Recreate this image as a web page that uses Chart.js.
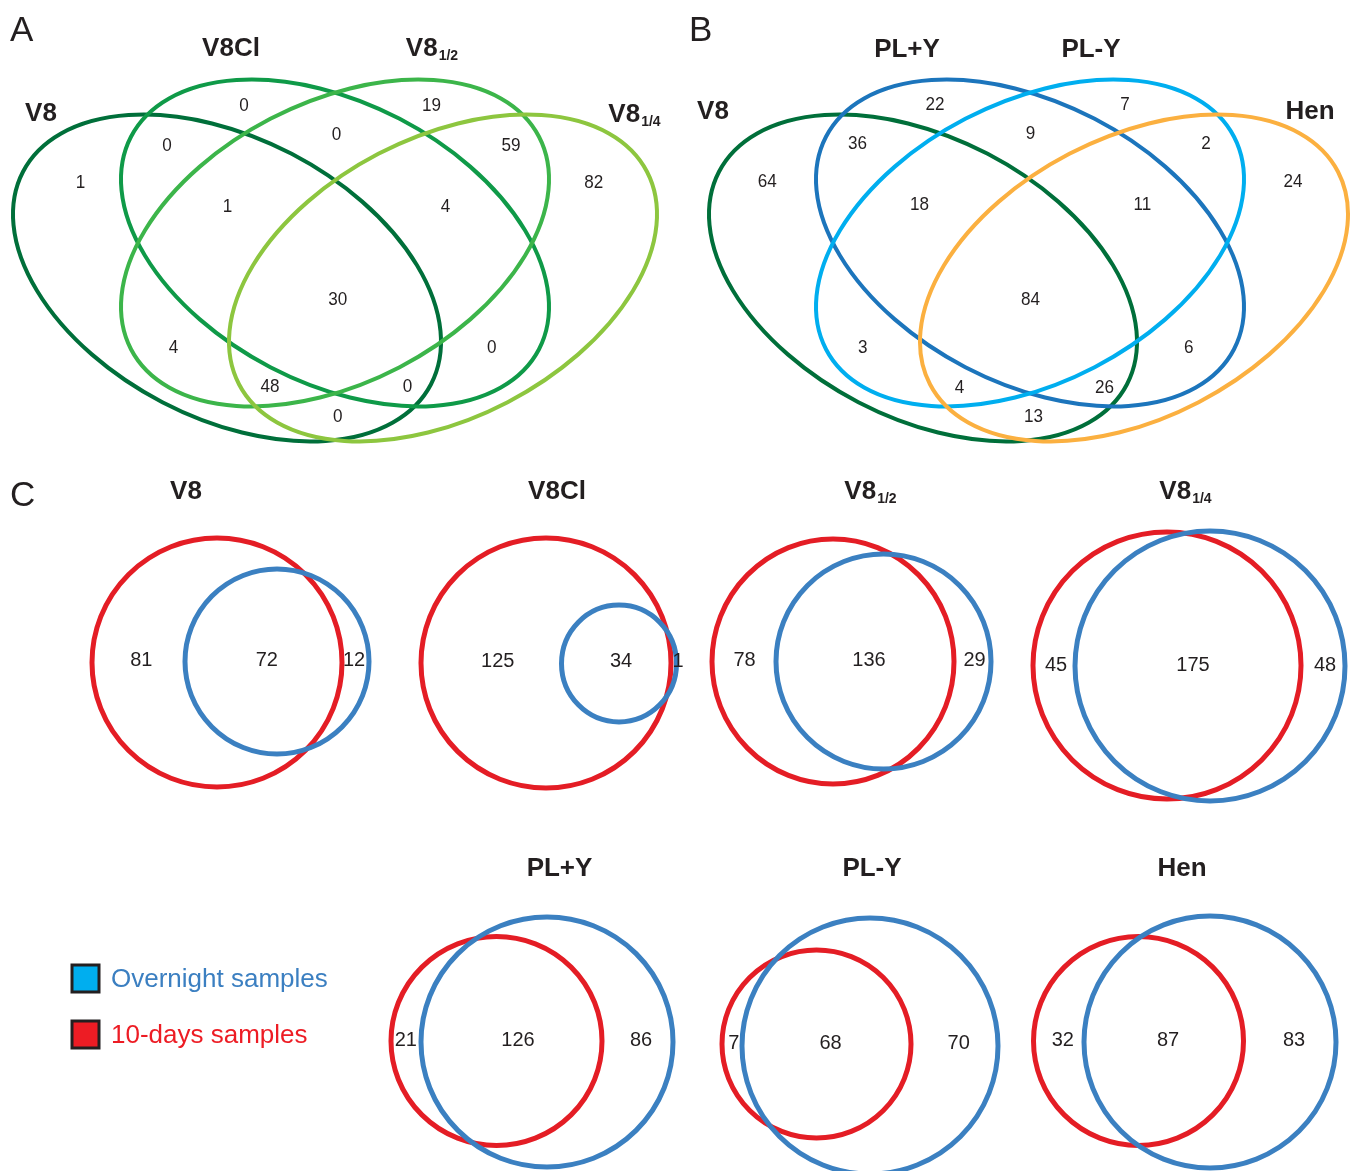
<!DOCTYPE html>
<html><head><meta charset="utf-8">
<script src="https://cdn.jsdelivr.net/npm/chart.js@4/dist/chart.umd.min.js"></script>
<style>html,body{margin:0;padding:0;background:#fff;}#wrap{width:1351px;height:1171px;}</style>
</head><body><div id="wrap"><canvas id="c" width="1351" height="1171"></canvas></div>
<script>
// ---------------- DATA ----------------
const panelLetters = ['A', 'B', 'C'];
const quadSetsA = ['V8', 'V8Cl', 'V8', 'V8'];
const quadSubsA = ['', '', '1/2', '1/4'];
const quadCountsA = [1, 0, 19, 82, 0, 0, 59, 1, 4, 30, 4, 0, 48, 0, 0];
const quadSetsB = ['V8', 'PL+Y', 'PL-Y', 'Hen'];
const quadSubsB = ['', '', '', ''];
const quadCountsB = [64, 22, 7, 24, 36, 9, 2, 18, 11, 84, 3, 6, 4, 26, 13];
const pairSets = ['V8', 'V8Cl', 'V8', 'V8', 'PL+Y', 'PL-Y', 'Hen'];
const pairSubs = ['', '', '1/2', '1/4', '', '', ''];
const only10days = [81, 125, 78, 45, 21, 7, 32];
const sharedBoth = [72, 34, 136, 175, 126, 68, 87];
const onlyOvernight = [12, 1, 29, 48, 86, 70, 83];
const legendLabels = ['Overnight samples', '10-days samples'];

// ---------------- LAYOUT (positions / sizes / styles) ----------------
const W = 1351, H = 1171;
const quadPosA = [[80.6,183],[244,106],[431.6,106],[593.7,182.7],[167,145.7],[336.5,135],[511,145.7],[227.5,206.7],[445.5,206.7],[337.8,300],[173.5,348],[491.7,348],[270,387],[407.6,387],[337.8,416.7]];
const quadPosB = [[767.3,181.7],[935,105],[1125,105],[1293,181.7],[857.6,144],[1030.5,134],[1206,144],[919.6,205],[1142.4,205],[1030.5,300],[862.8,347.7],[1188.8,347.7],[959.6,387.3],[1104.5,387.3],[1033.5,416.7]];
const ellA = [[227,278,27.5],[335,243,27.5],[335,243,-27.5],[443,278,-27.5]];
const ellB = [[923,278,27.5],[1030,243,27.5],[1030,243,-27.5],[1134,278,-27.5]];
const ellAxes = [230, 140];
const colorsA = ['#006f3a', '#0f9a48', '#3cb54a', '#8dc63f'];
const colorsB = ['#006f3a', '#1c75bc', '#00aeef', '#fbb040'];
const titlePosA = [[41,121],[231,56],[431.5,56],[634,122]];
const titlePosB = [[713,119],[907,57],[1091,57],[1310,119]];
const pairTitlePos = [[186,499],[557,499],[870,499],[1185,499],[559.5,876],[872,876],[1182,876]];
const pairRed = [[217,662.5,125,124.5],[546,663,125,125],[833,661.5,121,122.5],[1167,665.5,134,133.5],[496.5,1041,105.5,104.5],[816.5,1044,94.5,94],[1138.5,1041,105,104.5]];
const pairBlue = [[277,661.5,92,92.5],[619,663.5,57.5,58.5],[883.5,661.5,107.5,107.5],[1210,666,135,135],[547,1042,126,125],[870,1046,128,128],[1210,1042,126,126]];
const pairNumPos = [
  [[141.3,660],[266.8,660],[354,660]],
  [[497.8,661.7],[621,661.7],[678,661.7]],
  [[744.5,660],[869,660],[974.6,660]],
  [[1056,665],[1193,665],[1325,665]],
  [[405.8,1040],[518,1040],[641,1040]],
  [[733.8,1043],[830.5,1043],[958.7,1043]],
  [[1062.8,1040],[1168,1040],[1294,1040]]
];
const letterPos = [[10,41],[689,41],[10,506]];
const legendPos = [[72,965],[72,1021]];
const legendFill = ['#00aeef', '#ed1c24'];
const legendText = ['#3b7fc1', '#ed1c24'];
const RED = '#e41d25', BLUE = '#3b80c1';

// ---------------- DATASETS ----------------
function pts(pos, vals) { return pos.map((p, i) => ({x: p[0], y: p[1], v: vals[i]})); }
const datasets = [
  {label: 'A', kind: 'quad', font: 19, data: pts(quadPosA, quadCountsA)},
  {label: 'B', kind: 'quad', font: 19, data: pts(quadPosB, quadCountsB)}
];
pairSets.forEach((name, i) => {
  datasets.push({label: 'C-' + name + pairSubs[i], kind: 'pair', font: 20,
    data: pts(pairNumPos[i], [only10days[i], sharedBoth[i], onlyOvernight[i]])});
});
datasets.forEach(d => { d.pointRadius = 0; d.pointHoverRadius = 0; d.showLine = false; });

// ---------------- PLUGIN ----------------
function P(chart, x, y) { return [chart.scales.x.getPixelForValue(x), chart.scales.y.getPixelForValue(y)]; }
function L(chart, d) { return Math.abs(chart.scales.x.getPixelForValue(d) - chart.scales.x.getPixelForValue(0)); }
function title(ctx, main, sub, cx, by) {
  ctx.save();
  ctx.fillStyle = '#231f20';
  ctx.textBaseline = 'alphabetic';
  ctx.textAlign = 'left';
  ctx.font = 'bold 26px "Liberation Sans", Arial, sans-serif';
  const w1 = ctx.measureText(main).width;
  ctx.font = 'bold 14px "Liberation Sans", Arial, sans-serif';
  const w2 = sub ? ctx.measureText(sub).width : 0;
  const x0 = cx - (w1 + w2) / 2;
  ctx.font = 'bold 26px "Liberation Sans", Arial, sans-serif';
  ctx.fillText(main, x0, by);
  if (sub) { ctx.font = 'bold 14px "Liberation Sans", Arial, sans-serif'; ctx.fillText(sub, x0 + w1 + 1, by + 4); }
  ctx.restore();
}
const vennPlugin = {
  id: 'venn',
  beforeDatasetsDraw(chart) {
    const ctx = chart.ctx;
    ctx.save();
    [[colorsA, ellA], [colorsB, ellB]].forEach(([cols, ells]) => {
      ells.forEach((e, i) => {
        const [x, y] = P(chart, e[0], e[1]);
        ctx.beginPath();
        ctx.ellipse(x, y, L(chart, ellAxes[0]), L(chart, ellAxes[1]), e[2] * Math.PI / 180, 0, 2 * Math.PI);
        ctx.strokeStyle = cols[i]; ctx.lineWidth = 4; ctx.stroke();
      });
    });
    pairRed.forEach((r, i) => {
      [[r, RED], [pairBlue[i], BLUE]].forEach(([c, col]) => {
        const [x, y] = P(chart, c[0], c[1]);
        ctx.beginPath();
        ctx.ellipse(x, y, L(chart, c[2]), L(chart, c[3]), 0, 0, 2 * Math.PI);
        ctx.strokeStyle = col; ctx.lineWidth = 5; ctx.stroke();
      });
    });
    ctx.restore();
  },
  afterDatasetsDraw(chart) {
    const ctx = chart.ctx;
    ctx.save();
    chart.data.datasets.forEach((ds, di) => {
      const meta = chart.getDatasetMeta(di);
      ctx.font = ds.font + 'px "Liberation Sans", Arial, sans-serif';
      ctx.fillStyle = '#231f20';
      ctx.textAlign = 'center';
      ctx.textBaseline = 'middle';
      meta.data.forEach((el, i) => {
        const s = String(ds.data[i].v);
        if (ds.kind === 'quad') {
          ctx.save(); ctx.translate(el.x, el.y); ctx.scale(0.9, 1);
          ctx.fillText(s, 0, 0); ctx.restore();
        } else ctx.fillText(s, el.x, el.y);
      });
    });
    quadSetsA.forEach((n, i) => { const [x, y] = P(chart, titlePosA[i][0], titlePosA[i][1]); title(ctx, n, quadSubsA[i], x, y); });
    quadSetsB.forEach((n, i) => { const [x, y] = P(chart, titlePosB[i][0], titlePosB[i][1]); title(ctx, n, quadSubsB[i], x, y); });
    pairSets.forEach((n, i) => { const [x, y] = P(chart, pairTitlePos[i][0], pairTitlePos[i][1]); title(ctx, n, pairSubs[i], x, y); });
    ctx.font = '35px "Liberation Sans", Arial, sans-serif';
    ctx.fillStyle = '#231f20'; ctx.textAlign = 'left'; ctx.textBaseline = 'alphabetic';
    panelLetters.forEach((l, i) => { const [x, y] = P(chart, letterPos[i][0], letterPos[i][1]); ctx.fillText(l, x, y); });
    legendLabels.forEach((t, i) => {
      const [x, y] = P(chart, legendPos[i][0], legendPos[i][1]);
      const s = L(chart, 27);
      ctx.fillStyle = legendFill[i]; ctx.fillRect(x, y, s, s);
      ctx.strokeStyle = '#231f20'; ctx.lineWidth = 3; ctx.strokeRect(x, y, s, s);
      ctx.font = '26px "Liberation Sans", Arial, sans-serif';
      ctx.fillStyle = legendText[i]; ctx.textBaseline = 'middle';
      ctx.fillText(t, x + 39, y + s / 2 + 1);
    });
    ctx.restore();
  }
};

new Chart(document.getElementById('c'), {
  type: 'scatter',
  data: {datasets},
  options: {
    responsive: false, animation: false, events: [],
    layout: {padding: 0},
    plugins: {legend: {display: false}, tooltip: {enabled: false}},
    scales: {
      x: {type: 'linear', min: 0, max: W, display: false},
      y: {type: 'linear', min: 0, max: H, reverse: true, display: false}
    }
  },
  plugins: [vennPlugin]
});
</script></body></html>
